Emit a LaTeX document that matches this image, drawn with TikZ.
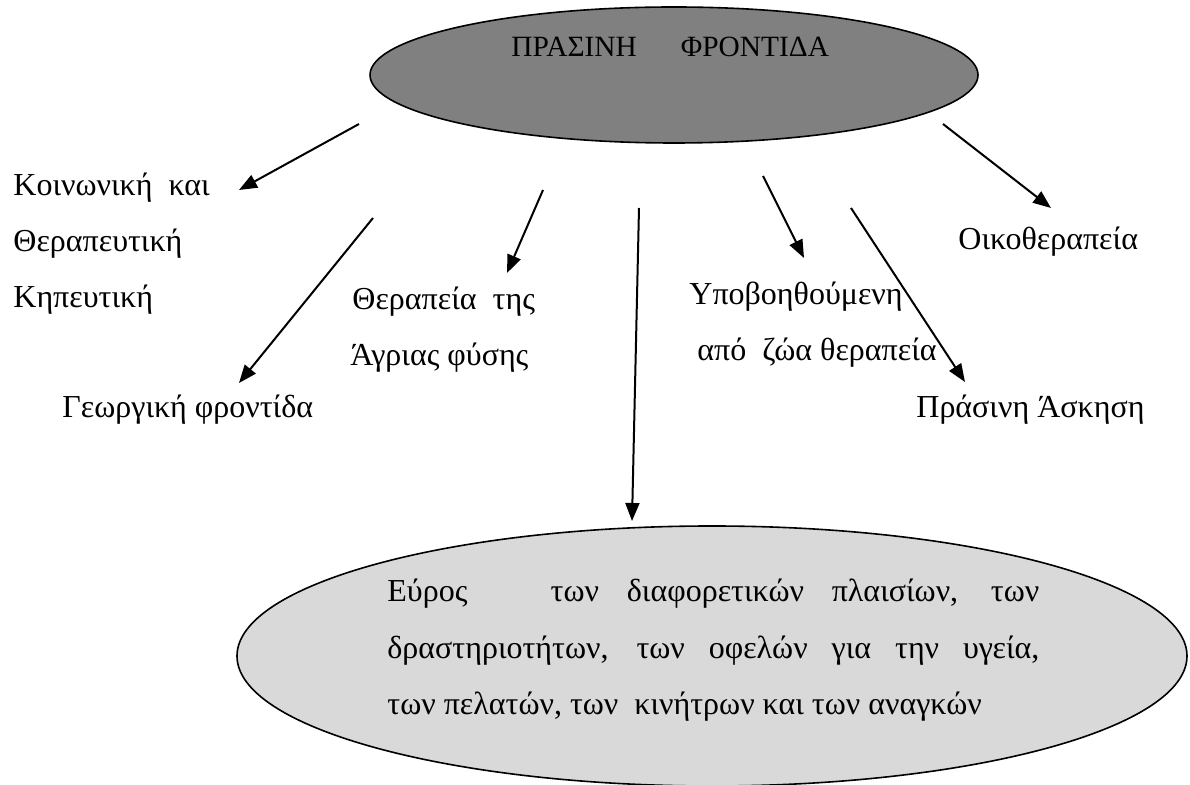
\documentclass[tikz,border=0pt]{standalone}
\usepackage{fontspec}
\setmainfont{Liberation Serif}
\usetikzlibrary{arrows.meta}
\definecolor{topgray}{HTML}{808080}
\definecolor{lowgray}{HTML}{D9D9D9}

\begin{document}
\begin{tikzpicture}[x=0.5pt,y=-0.5pt,
  font=\fontsize{16}{28}\selectfont,
  lab/.style={inner sep=0pt,anchor=base west},
  arr/.style={-{Triangle[length=9pt,width=7pt]},line width=1pt}]
  \useasboundingbox (0,0) rectangle (1190,785);

  % the two ellipses
  \draw[fill=topgray,line width=0.8pt] (674,75) ellipse [x radius=304,y radius=68];
  \draw[fill=lowgray,line width=0.8pt] (712,656) ellipse [x radius=475,y radius=130];

  \node[lab,font=\fontsize{14.7}{28}\selectfont] (title) at (511,57) {ΠΡΑΣΙΝΗ\hspace{22pt}ΦΡΟΝΤΙΔΑ};

  % labels round the top ellipse
  \node[lab] (koin1) at (13,196) {Κοινωνική\ \ και};
  \node[lab] (koin2) at (13,252) {Θεραπευτική};
  \node[lab] (koin3) at (13,308) {Κηπευτική};
  \node[lab] (geo)   at (62,418) {Γεωργική φροντίδα};
  \node[lab] (agr1)  at (352,310) {Θεραπεία\ \ της};
  \node[lab] (agr2)  at (350,366) {Άγριας φύσης};
  \node[lab] (zoa1)  at (689,305) {Υποβοηθούμενη};
  \node[lab] (zoa2)  at (697,361) {από\ \ ζώα θεραπεία};
  \node[lab] (oiko)  at (958,250) {Οικοθεραπεία};
  \node[lab] (pras)  at (916,418) {Πράσινη Άσκηση};

  % text of the lower ellipse
  \node[lab] (eur1) at (387,602) {\makebox[326pt][s]{Εύρος\ \ \ των διαφορετικών πλαισίων, των}};
  \node[lab] (eur2) at (387,659) {\makebox[326pt][s]{δραστηριοτήτων, των οφελών για την υγεία,}};
  \node[lab] (eur3) at (387,715) {των πελατών, των\ \ κινήτρων και των αναγκών};

  % arrow ends
  \coordinate (s1) at (359,124);  \coordinate (t1) at (239,190);
  \coordinate (s2) at (543,190);  \coordinate (t2) at (507,273);
  \coordinate (s3) at (373,218);  \coordinate (t3) at (239,383);
  \coordinate (s4) at (639,208);  \coordinate (t4) at (632,521);
  \coordinate (s5) at (763,176);  \coordinate (t5) at (804,258);
  \coordinate (s6) at (851,208);  \coordinate (t6) at (965,382);
  \coordinate (s7) at (943,124);  \coordinate (t7) at (1051,208);

  \foreach \i in {1,...,7} {
    \draw[arr] (s\i) -- (t\i);
  }
\end{tikzpicture}
\end{document}
